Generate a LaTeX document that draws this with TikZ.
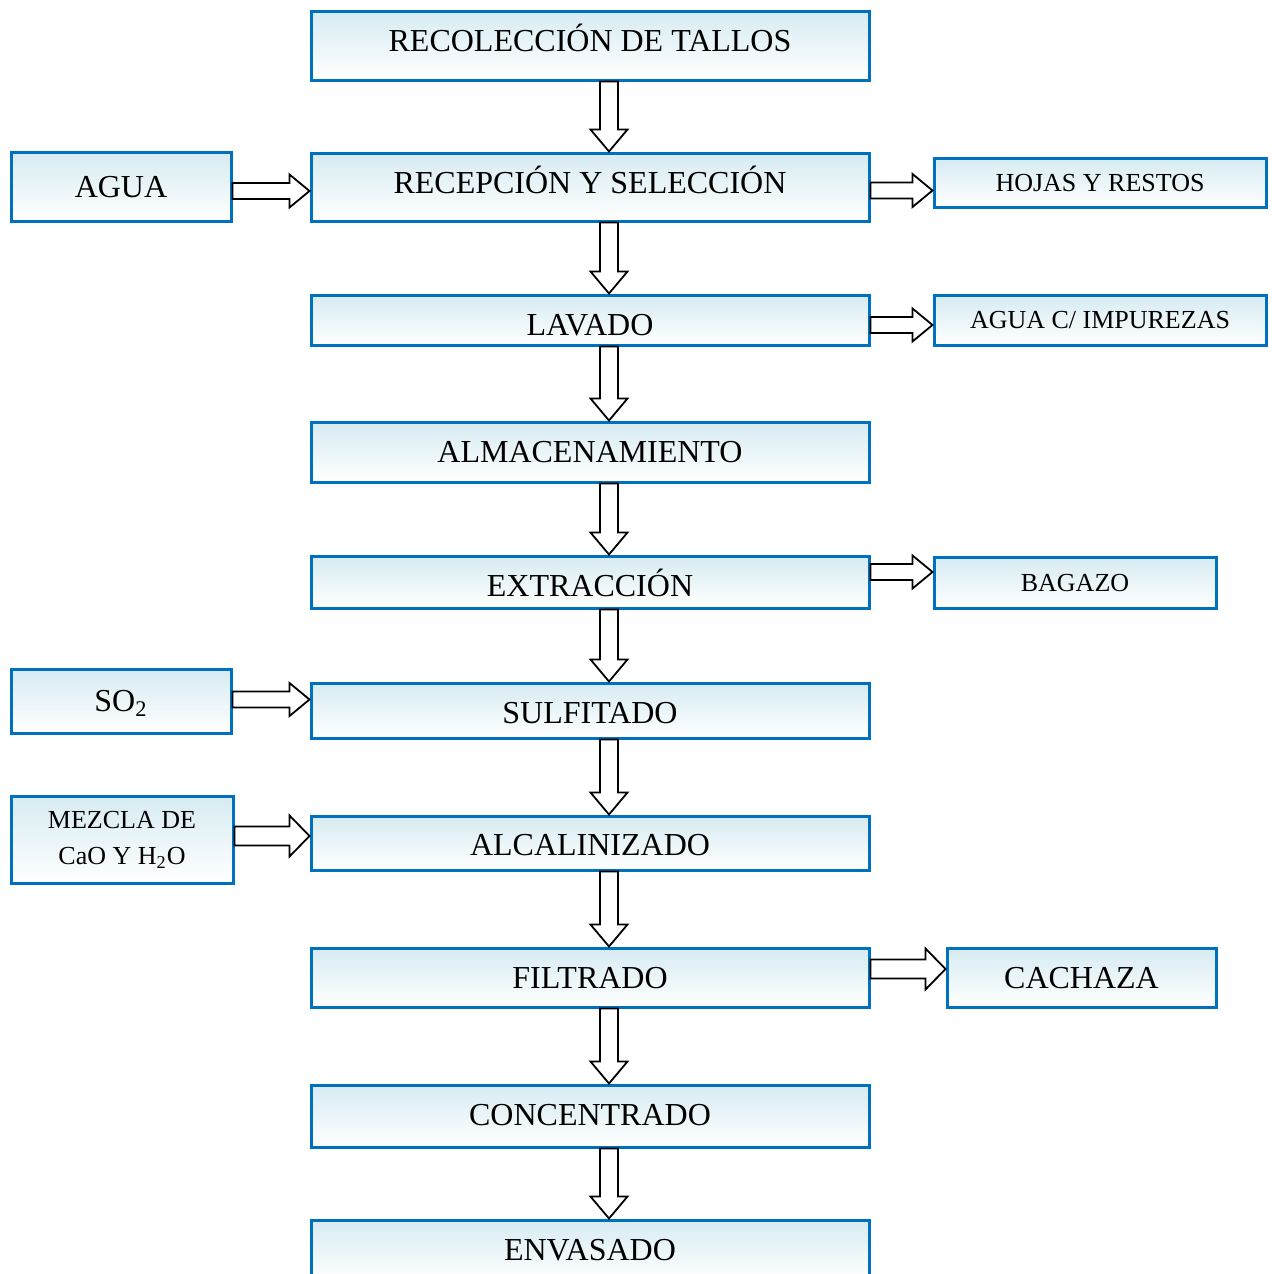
\documentclass[tikz,border=0pt]{standalone}
\usepackage{fontspec}
\setmainfont{Liberation Serif}
\usetikzlibrary{calc}
\definecolor{CajaBorde}{RGB}{0,112,192}
\definecolor{CajaFondo}{RGB}{214,235,242}

\tikzset{
  caja/.style={draw=CajaBorde, line width=1.5pt, top color=CajaFondo, bottom color=white,
    inner sep=0pt, text height=10.6pt, text depth=0pt, font=\fontsize{16}{19}\selectfont},
  chica/.style={caja, text height=8.6pt, font=\fontsize{13}{16}\selectfont},
  % hollow block arrow: half shaft / half head / head length
  bloque/.style n args={3}{draw=black, line width=0.9pt, fill=white, line join=miter,
    to path={let \p1=(\tikztostart), \p2=(\tikztotarget),
      \n1={atan2(\y2-\y1,\x2-\x1)}, \n2={veclen(\x2-\x1,\y2-\y1)} in
      ([shift={(\p1)},rotate=\n1]0pt,#1) -- ([shift={(\p1)},rotate=\n1]\n2-#3,#1)
      -- ([shift={(\p1)},rotate=\n1]\n2-#3,#2) -- ([shift={(\p1)},rotate=\n1]\n2,0pt)
      -- ([shift={(\p1)},rotate=\n1]\n2-#3,-#2) -- ([shift={(\p1)},rotate=\n1]\n2-#3,-#1)
      -- ([shift={(\p1)},rotate=\n1]0pt,-#1) -- cycle}},
  bajada/.style={bloque={4.5pt}{9.25pt}{11pt}},
  flecha/.style={bloque={4pt}{8.25pt}{10pt}},
  flechagrande/.style={bloque={4.75pt}{10.25pt}{10pt}},
}

\begin{document}
\begin{tikzpicture}[x=0.5pt,y=-0.5pt]
  \useasboundingbox (0,0) rectangle (1272,1274);

  % main process column
  \foreach \i/\yc/\alto/\desp/\texto in {
      1/45.5/34.5pt/-2.5pt/{RECOLECCIÓN DE TALLOS},
      2/187/34pt/-2pt/{RECEPCIÓN Y SELECCIÓN},
      3/320/25pt/2.5pt/{LAVADO},
      4/452/30pt/0pt/{ALMACENAMIENTO},
      5/582/26pt/1.75pt/{EXTRACCIÓN},
      6/710.5/27.5pt/1.25pt/{SULFITADO},
      7/843/27pt/1pt/{ALCALINIZADO},
      8/977.5/29.5pt/0pt/{FILTRADO},
      9/1116/31pt/-0.5pt/{CONCENTRADO},
      10/1250/30pt/0pt/{ENVASADO}}{
    \node[caja, minimum width=279pt, minimum height=\alto] (p\i) at (590,\yc)
      {\raisebox{-\desp}{\texto}};
  }

  % inputs
  \node[caja, minimum width=110pt, minimum height=34.5pt] (agua) at (121,186.5) {AGUA};
  \node[caja, minimum width=110pt, minimum height=32pt] (so2) at (121,701) {SO\textsubscript{2}};
  \node[chica, minimum width=111pt, minimum height=43.5pt, align=center,
        text height={}, text depth={}] (mezcla) at (122,839.5)
    {MEZCLA DE\\[2pt]CaO Y H\textsubscript{2}O};

  % outputs
  \node[chica, minimum width=166pt, minimum height=24.5pt] (hojas) at (1100,182.5) {HOJAS Y RESTOS};
  \node[chica, minimum width=166pt, minimum height=25pt] (aguac) at (1100,320) {AGUA C/ IMPUREZAS};
  \node[chica, minimum width=141pt, minimum height=25.5pt] (bagazo) at (1075,582.5) {BAGAZO};
  \node[caja, minimum width=134.5pt, minimum height=29.5pt] (cachaza) at (1081.5,977.5) {CACHAZA};

  % down arrows
  \foreach \i [evaluate=\i as \j using int(\i+1)] in {1,...,9}
    \draw[bajada] ([xshift=9.5pt]p\i.south) to ([xshift=9.5pt]p\j.north);

  % side arrows
  \draw[flecha] ([yshift=-2.25pt]agua.east) to ([yshift=-2pt]p2.west);
  \draw[flecha] ([yshift=-1.75pt]p2.east) to ([yshift=-4pt]hojas.west);
  \draw[flecha] ([yshift=-2.5pt]p3.east) to ([yshift=-2.5pt]aguac.west);
  \draw[flecha] ([yshift=5pt]p5.east) to ([yshift=5.25pt]bagazo.west);
  \draw[flecha] ([yshift=0.75pt]so2.east) to ([yshift=5.5pt]p6.west);
  \draw[flechagrande] ([yshift=1.75pt]mezcla.east) to ([yshift=3.5pt]p7.west);
  \draw[flechagrande] ([yshift=4.25pt]p8.east) to ([yshift=4.25pt]cachaza.west);
\end{tikzpicture}
\end{document}
